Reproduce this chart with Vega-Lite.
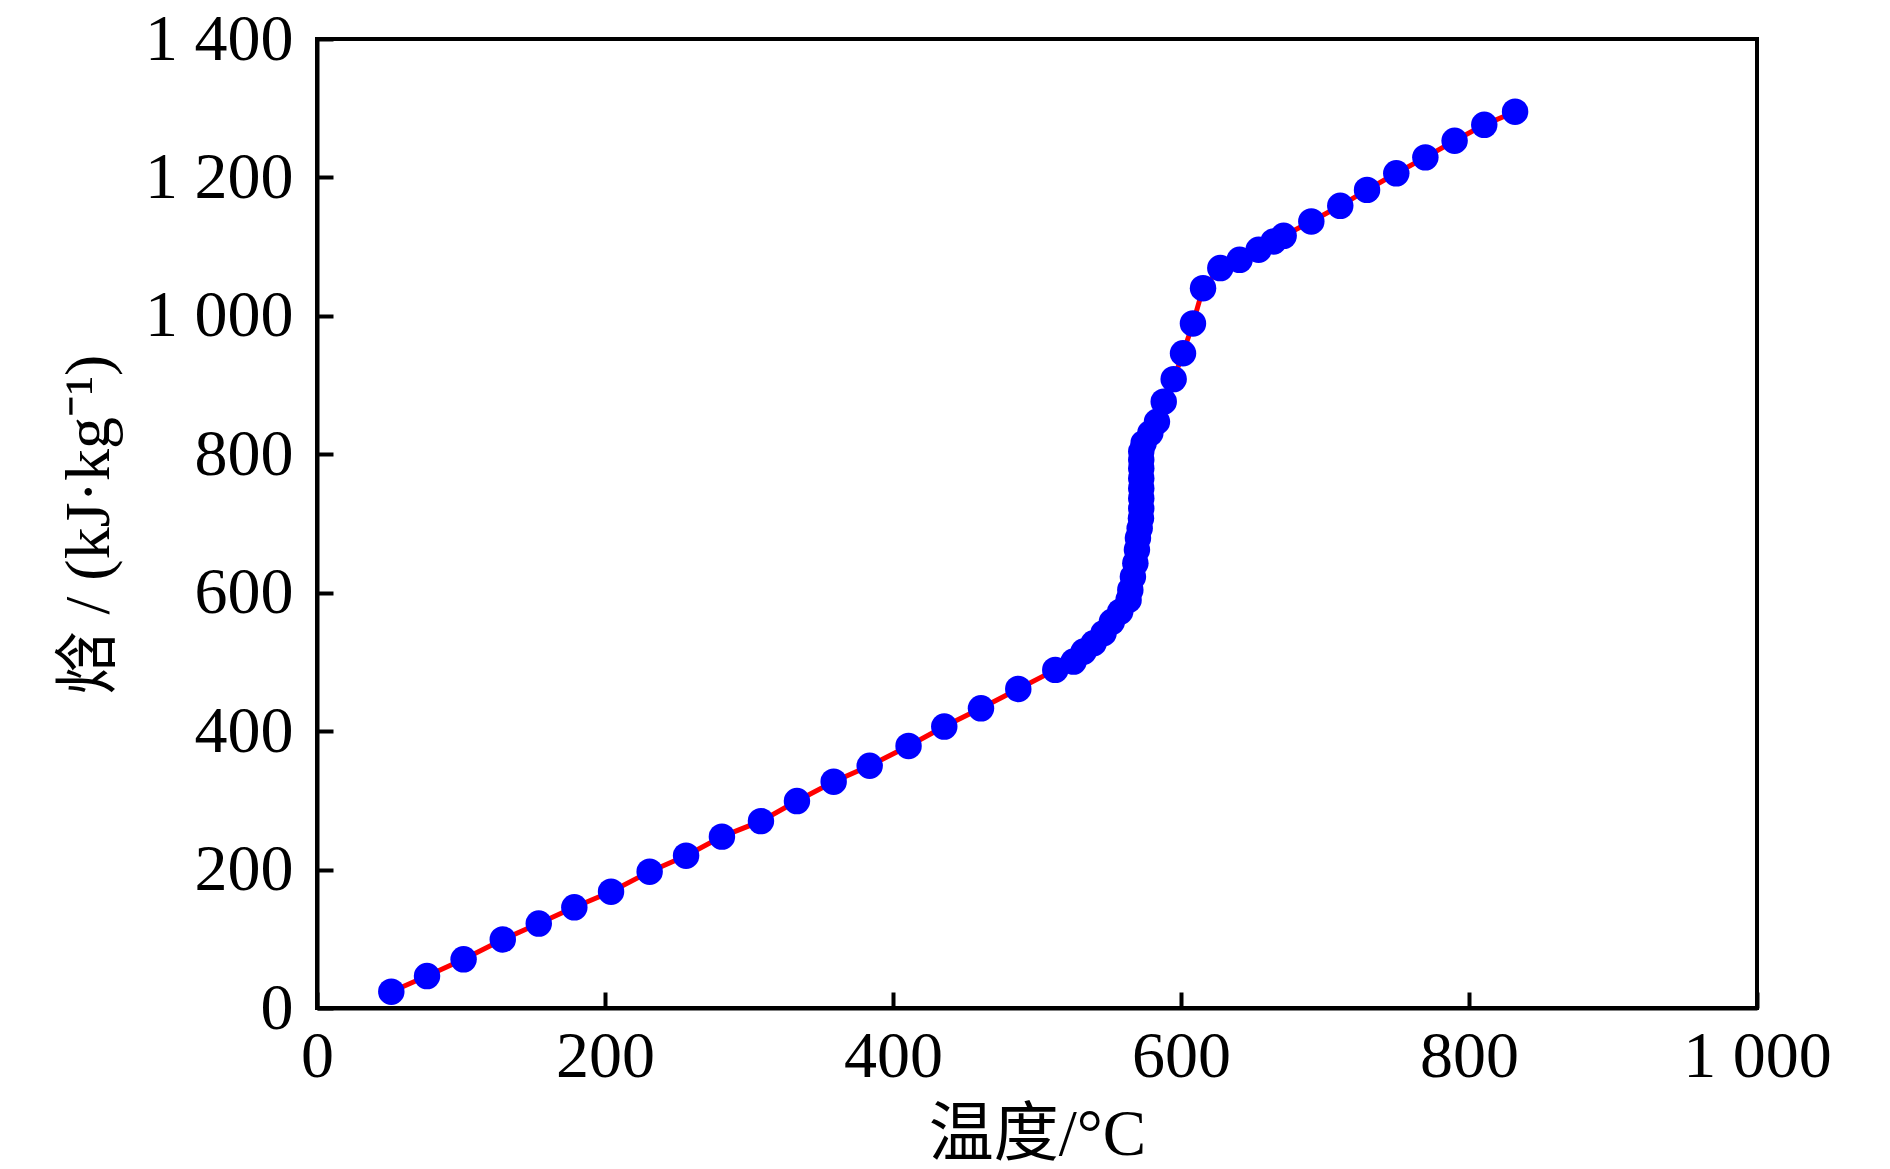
{
  "$schema": "https://vega.github.io/schema/vega-lite/v6.json",
  "width": 1440,
  "height": 969,
  "autosize": "none",
  "padding": {"left": 317, "top": 39, "right": 133, "bottom": 161},
  "background": "white",
  "config": {
    "view": {"stroke": "black", "strokeWidth": 4},
    "axis": {
      "domainColor": "black",
      "domainWidth": 4,
      "tickColor": "black",
      "tickWidth": 4,
      "tickSize": -16,
      "grid": false,
      "labelFlush": false,
      "labelOverlap": false,
      "labelFont": "Liberation Serif",
      "labelFontSize": 66,
      "labelColor": "black",
      "titleFont": "Liberation Serif, Noto Sans CJK SC",
      "titleFontWeight": "normal",
      "titleColor": "black"
    }
  },
  "data": {
    "values": [
      {"T": 51.6, "H": 23.6},
      {"T": 76.4, "H": 46.2},
      {"T": 101.8, "H": 70.3},
      {"T": 129, "H": 99},
      {"T": 154, "H": 122},
      {"T": 178.7, "H": 145.5},
      {"T": 204.2, "H": 168},
      {"T": 231, "H": 197},
      {"T": 256.3, "H": 220},
      {"T": 281.2, "H": 247.6},
      {"T": 308.3, "H": 270},
      {"T": 333.3, "H": 299},
      {"T": 358.8, "H": 327},
      {"T": 383.8, "H": 350},
      {"T": 410.8, "H": 378.6},
      {"T": 435.6, "H": 406.6},
      {"T": 461.1, "H": 433},
      {"T": 487, "H": 461},
      {"T": 512.7, "H": 488.5},
      {"T": 525.4, "H": 500.5},
      {"T": 532.4, "H": 515},
      {"T": 539.3, "H": 527},
      {"T": 546.2, "H": 541.5},
      {"T": 552, "H": 558},
      {"T": 557.8, "H": 572.7},
      {"T": 563.6, "H": 589.6},
      {"T": 564.8, "H": 604},
      {"T": 566.6, "H": 623},
      {"T": 568.3, "H": 642.7},
      {"T": 569.4, "H": 662},
      {"T": 570.1, "H": 679},
      {"T": 571.3, "H": 693},
      {"T": 572.2, "H": 707.7},
      {"T": 572.4, "H": 722},
      {"T": 572.4, "H": 736.6},
      {"T": 572.4, "H": 751},
      {"T": 572.4, "H": 765.5},
      {"T": 572.4, "H": 780},
      {"T": 572.4, "H": 792},
      {"T": 572.4, "H": 804},
      {"T": 574, "H": 816},
      {"T": 578.7, "H": 830.6},
      {"T": 583.3, "H": 847},
      {"T": 588, "H": 876},
      {"T": 594.9, "H": 908.6},
      {"T": 601.4, "H": 946},
      {"T": 608.3, "H": 989},
      {"T": 615.3, "H": 1040},
      {"T": 627.3, "H": 1069},
      {"T": 640.7, "H": 1081},
      {"T": 653.9, "H": 1095.5},
      {"T": 664.3, "H": 1107.5},
      {"T": 671.3, "H": 1115.7},
      {"T": 690.5, "H": 1136.4},
      {"T": 710.6, "H": 1159},
      {"T": 729.2, "H": 1182},
      {"T": 749.5, "H": 1206},
      {"T": 769.7, "H": 1229},
      {"T": 790, "H": 1253},
      {"T": 810.6, "H": 1276},
      {"T": 832, "H": 1295}
    ]
  },
  "encoding": {
    "x": {
      "field": "T",
      "type": "quantitative",
      "scale": {"domain": [0, 1000], "nice": false},
      "axis": {
        "values": [0, 200, 400, 600, 800, 1000],
        "labelExpr": "replace(format(datum.value, ','), ',', ' ')",
        "labelPadding": 32,
        "title": "温度/°C",
        "titleFontSize": 65,
        "titleBaseline": "alphabetic",
        "titleY": 146
      }
    },
    "y": {
      "field": "H",
      "type": "quantitative",
      "scale": {"domain": [0, 1400], "nice": false},
      "axis": {
        "values": [0, 200, 400, 600, 800, 1000, 1200, 1400],
        "labelExpr": "replace(format(datum.value, ','), ',', ' ')",
        "labelPadding": 40,
        "title": "焓 / (kJ·kg⁻¹)",
        "titleFontSize": 64,
        "titleAngle": -90,
        "titleBaseline": "alphabetic",
        "titleX": -209,
        "titleY": 485
      }
    }
  },
  "layer": [
    {
      "mark": {"type": "line", "color": "#ff0000", "strokeWidth": 5},
      "encoding": {"order": {"field": "H", "type": "quantitative"}}
    },
    {
      "mark": {"type": "circle", "color": "#0000ff", "size": 700, "opacity": 1}
    }
  ]
}
